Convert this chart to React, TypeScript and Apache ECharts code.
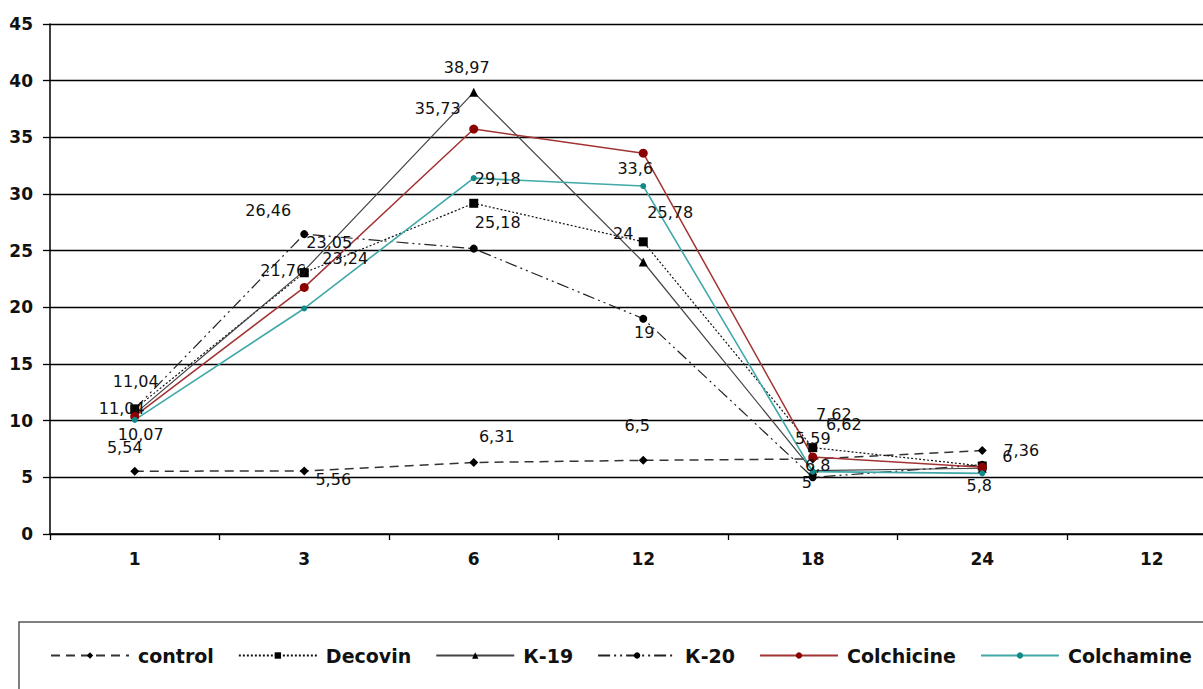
import React, { useEffect, useRef } from "react";
import * as echarts from "echarts";

const categories = ["1", "3", "6", "12", "18", "24", "12"];
const seriesNames = ["control", "Decovin", "К-19", "К-20", "Colchicine", "Colchamine"];

const control = [5.54, 5.56, 6.31, 6.5, 6.62, 7.36];
const decovin = [11.04, 23.05, 29.18, 25.78, 7.62, 6];
const k19 = [10.6, 23.24, 38.97, 24, 5.59, 5.8];
const k20 = [11.04, 26.46, 25.18, 19, 5, 6.1];
const colchicine = [10.4, 21.76, 35.73, 33.6, 6.8, 5.9];
const colchamine = [10.07, 19.9, 31.4, 30.7, 5.5, 5.35];

const yTicks = { min: 0, max: 45, interval: 5 };

// label offsets (styling): null = no label
type Off = [number, number] | null;
const controlLabels: Off[] = [[-10, -24], [29, 9], [23, -26], [-6, -35], [31, -34], [39, 0]];
const decovinLabels: Off[] = [[-13, 0], [25, -30], [24, -25], [27, -29], [21, -33], [25, -10]];
const k19Labels: Off[] = [null, [41, -12], [-7, -25], [-20, -29], [0, -32], [-3, 17]];
const k20Labels: Off[] = [[1, -27], [-36, -24], [24, -26], [1, 14], [-6, 5], null];
const colchicineLabels: Off[] = [null, [-21, -17], [-36, -21], [-8, 15], [5, 9], null];
const colchamineLabels: Off[] = [[6, 15], null, null, null, null, null];

const FONT = "DejaVu Sans";

function buildData(values: number[], offs: Off[]) {
  return values.map((v, i) => {
    const o = offs[i];
    return {
      value: v,
      label: o
        ? { show: true, position: "inside", offset: o }
        : { show: false },
    };
  });
}

export default function App() {
  const ref = useRef<HTMLDivElement>(null);
  useEffect(() => {
    if (!ref.current) return;
    const chart = echarts.init(ref.current, undefined, { renderer: "svg" });
    const labelStyle = {
      fontFamily: FONT,
      fontSize: 16,
      color: "#111",
      formatter: (p: any) => String(p.value).replace(".", ","),
    };
    const mk = (
      name: string,
      values: number[],
      offs: Off[],
      symbol: string,
      symbolSize: number,
      markerColor: string,
      lineColor: string,
      lineType: any,
      lineWidth: number
    ) => ({
      name,
      type: "line",
      data: buildData(values, offs),
      symbol,
      symbolSize,
      itemStyle: { color: markerColor },
      lineStyle: { color: lineColor, type: lineType, width: lineWidth },
      label: { show: true, ...labelStyle },
      emphasis: { disabled: true },
    });
    chart.setOption({
      animation: false,
      backgroundColor: "#fff",
      grid: { left: 50, top: 24, width: 1186.5, height: 510 },
      xAxis: {
        type: "category",
        data: categories,
        boundaryGap: true,
        axisLine: { show: true, lineStyle: { color: "#000", width: 1.5 } },
        axisTick: { show: true, length: 6, interval: 0, lineStyle: { color: "#000", width: 1.3 } },
        axisLabel: {
          interval: 0,
          margin: 16,
          fontFamily: FONT,
          fontWeight: "bold",
          fontSize: 17,
          color: "#111",
        },
        splitLine: { show: false },
      },
      yAxis: {
        type: "value",
        min: yTicks.min,
        max: yTicks.max,
        interval: yTicks.interval,
        axisLine: { show: true, lineStyle: { color: "#000", width: 1.5 } },
        axisTick: { show: true, length: 7, lineStyle: { color: "#000", width: 1.3 } },
        axisLabel: {
          margin: 17,
          fontFamily: FONT,
          fontWeight: "bold",
          fontSize: 17,
          color: "#111",
        },
        splitLine: { show: true, lineStyle: { color: "#000", width: 1.3 } },
      },
      legend: {
        left: 45,
        top: 641,
        itemWidth: 78,
        itemHeight: 8,
        itemGap: 24,
        textStyle: {
          fontFamily: FONT,
          fontWeight: "bold",
          fontSize: 19,
          color: "#111",
          padding: [0, 0, 0, 4],
        },
        data: seriesNames,
      },
      graphic: [
        {
          type: "rect",
          shape: { x: 19, y: 622, width: 1300, height: 200 },
          style: { fill: "none", stroke: "#555", lineWidth: 1.5 },
          silent: true,
        },
      ],
      series: [
        mk(seriesNames[0], control, controlLabels, "diamond", 9, "#000", "#333", [9, 6], 1.5),
        mk(seriesNames[1], decovin, decovinLabels, "rect", 9, "#000", "#111", [2, 2], 1.2),
        mk(seriesNames[2], k19, k19Labels, "triangle", 9, "#000", "#444", "solid", 1.2),
        mk(seriesNames[3], k20, k20Labels, "circle", 8, "#000", "#222", [12, 4, 2, 4, 2, 4], 1.2),
        mk(seriesNames[4], colchicine, colchicineLabels, "circle", 9, "#8B0000", "#A33333", "solid", 1.5),
        mk(seriesNames[5], colchamine, colchamineLabels, "circle", 6, "#138A8A", "#40A8A8", "solid", 1.6),
      ],
    });
    return () => chart.dispose();
  }, []);
  return (
    <div
      style={{
        position: "absolute",
        left: 0,
        top: 0,
        width: 1203,
        height: 689,
        overflow: "hidden",
      }}
    >
      <div ref={ref} style={{ width: 1260, height: 689 }} />
    </div>
  );
}
